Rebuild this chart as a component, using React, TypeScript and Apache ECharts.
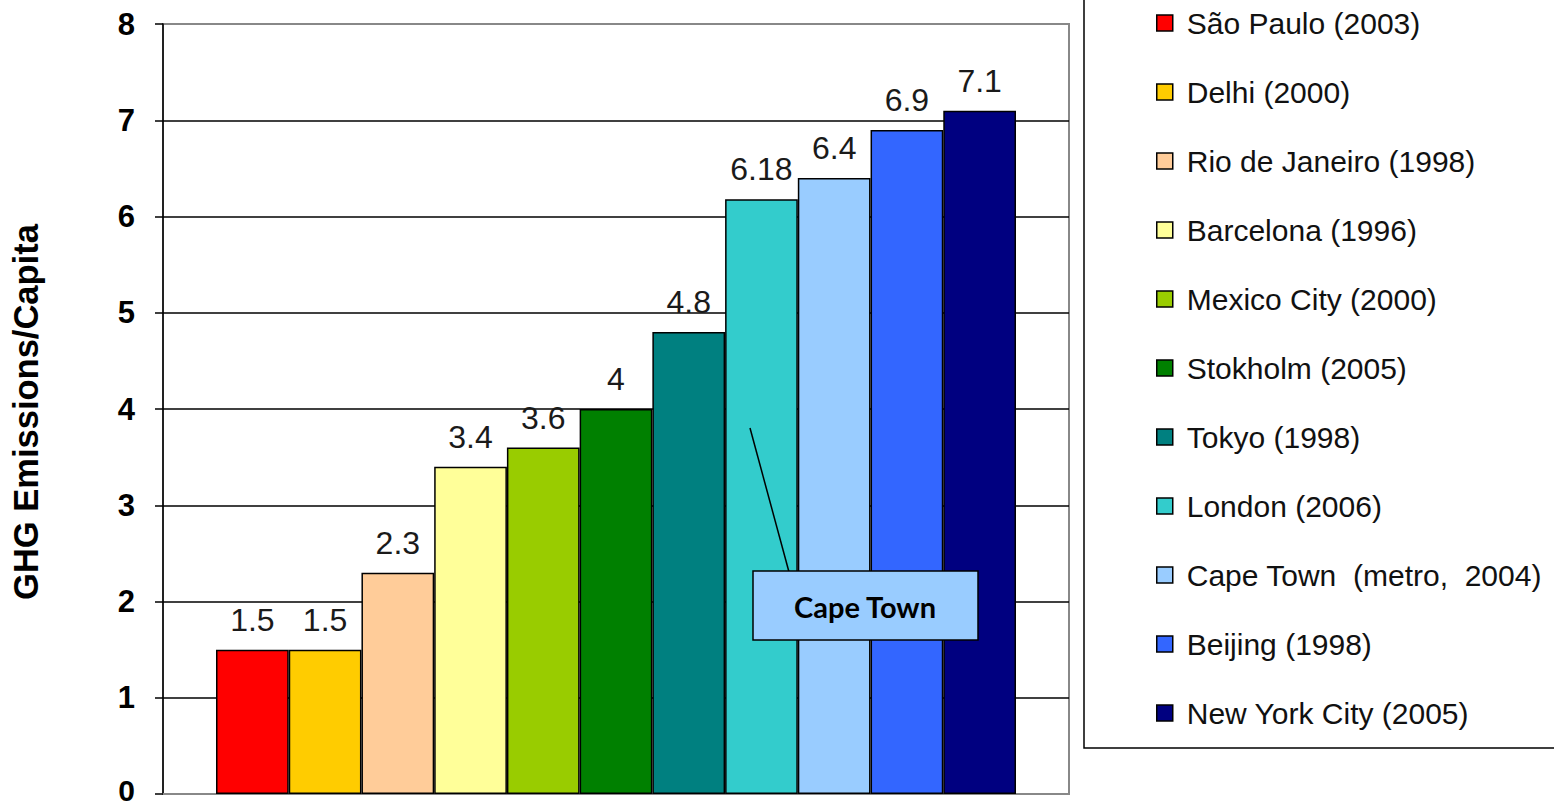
import React, { useEffect, useRef } from "react";
import * as echarts from "echarts";

const cities = [
  "São Paulo (2003)",
  "Delhi (2000)",
  "Rio de Janeiro (1998)",
  "Barcelona (1996)",
  "Mexico City (2000)",
  "Stokholm (2005)",
  "Tokyo (1998)",
  "London (2006)",
  "Cape Town  (metro,  2004)",
  "Beijing (1998)",
  "New York City (2005)",
];
const values = [1.5, 1.5, 2.3, 3.4, 3.6, 4, 4.8, 6.18, 6.4, 6.9, 7.1];
const colors = [
  "#FF0000",
  "#FFCC00",
  "#FFCC99",
  "#FFFF99",
  "#99CC00",
  "#008000",
  "#008080",
  "#33CCCC",
  "#99CCFF",
  "#3366FF",
  "#000080",
];
const yTicks = [0, 1, 2, 3, 4, 5, 6, 7, 8];
const yTitle = "GHG Emissions/Capita";
const annotationText = "Cape Town";

export default function App() {
  const ref = useRef<HTMLDivElement>(null);
  useEffect(() => {
    if (!ref.current) return;
    const chart = echarts.init(ref.current, null, { renderer: "svg" });
    const font = "'Liberation Sans', Arial, sans-serif";
    const series = cities.map((name, i) => ({
      name,
      type: "bar",
      data: [values[i]],
      barGap: "0%",
      barCategoryGap: "11.7%",
      itemStyle: { color: colors[i], borderColor: "#000", borderWidth: 1.5 },
      label: {
        show: true,
        position: "top",
        distance: 14,
        fontFamily: font,
        fontSize: 32,
        color: "#1a1a1a",
        formatter: String(values[i]),
      },
    }));
    chart.setOption({
      animation: false,
      backgroundColor: "#fff",
      grid: {
        left: 163,
        top: 24,
        right: 485,
        bottom: 12,
        outerBoundsMode: "none",
        containLabel: false,
        show: true,
        borderColor: "#888",
        borderWidth: 2,
        backgroundColor: "transparent",
      },
      legend: {
        orient: "vertical",
        left: 1151,
        top: 3,
        itemWidth: 16,
        itemHeight: 16,
        itemGap: 39,
        icon: "rect",
        itemStyle: { borderColor: "#000", borderWidth: 1.5 },
        textStyle: {
          fontFamily: font,
          fontSize: 30,
          color: "#111",
          lineHeight: 30,
          padding: [0, 0, 0, 9],
        },
        data: cities,
        selectedMode: false,
      },
      xAxis: {
        type: "category",
        data: [""],
        axisLine: { show: true, lineStyle: { color: "#888", width: 2 } },
        axisTick: { show: false },
        axisLabel: { show: false },
      },
      yAxis: {
        type: "value",
        min: 0,
        max: 8,
        interval: 1,
        axisLine: { show: true, lineStyle: { color: "#000", width: 1.5 } },
        axisTick: { show: true, length: 8, lineStyle: { color: "#000", width: 1.5 } },
        axisLabel: {
          fontFamily: font,
          fontSize: 31,
          fontWeight: "bold",
          color: "#000",
          margin: 28,
          formatter: (v: number) =>
            v === 0 ? "{z|" + yTicks[0] + "}" : yTicks.includes(v) ? String(v) : "",
          rich: {
            z: {
              fontFamily: font,
              fontSize: 30,
              fontWeight: "bold",
              color: "#000",
              lineHeight: 26,
              padding: [0, 0, 8, 0],
            },
          },
        },
        splitLine: {
          show: true,
          lineStyle: {
            color: ["#888", "#000", "#000", "#000", "#000", "#000", "#000", "#000", "#888"],
            width: 1.5,
          },
        },
        name: yTitle,
        nameLocation: "middle",
        nameGap: 120,
        nameRotate: 90,
        nameTextStyle: {
          fontFamily: font,
          fontSize: 34.5,
          fontWeight: "bold",
          color: "#000",
          padding: [0, 6, 0, 0],
        },
      },
      series,
      graphic: [
        {
          type: "rect",
          shape: { x: 1084, y: -10, width: 500, height: 758 },
          style: { fill: "none", stroke: "#000", lineWidth: 1.5 },
          silent: true,
        },
        {
          type: "line",
          shape: { x1: 750, y1: 428, x2: 789, y2: 572 },
          style: { stroke: "#000", lineWidth: 1.5 },
          z: 10,
        },
        {
          type: "rect",
          shape: { x: 753, y: 571, width: 225, height: 69 },
          style: { fill: "#99CCFF", stroke: "#000", lineWidth: 1.5 },
          z: 10,
        },
        {
          type: "text",
          x: 865,
          y: 606,
          style: {
            text: annotationText,
            fontFamily: "Lato, 'Open Sans', sans-serif",
            fontWeight: "bold",
            fontSize: 29,
            fill: "#000",
            align: "center",
            verticalAlign: "middle",
          },
          z: 11,
        },
      ],
    });
    return () => chart.dispose();
  }, []);
  return (
    <div
      ref={ref}
      style={{ position: "fixed", left: 0, top: 0, width: 1554, height: 806 }}
    />
  );
}
